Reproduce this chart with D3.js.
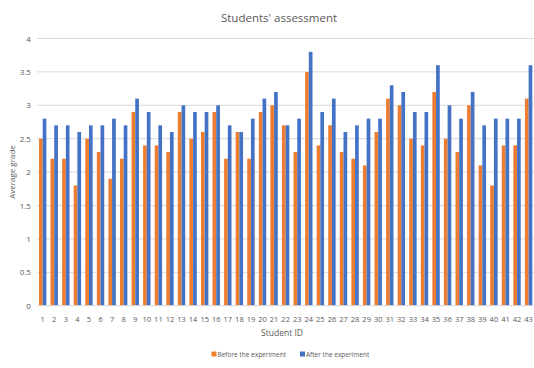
<!DOCTYPE html>
<html>
<head>
<meta charset="utf-8">
<script src="https://cdn.jsdelivr.net/npm/d3@7"></script>
<style>
  html, body { margin: 0; padding: 0; background: #fff; }
  svg { display: block; }
  text { font-family: "Open Sans", sans-serif; fill: #595959; }
</style>
</head>
<body>
<svg id="chart" width="534" height="368"></svg>
<script>
const studentIds = d3.range(1, 44).map(String);
const beforeValues = [2.5,2.2,2.2,1.8,2.5,2.3,1.9,2.2,2.9,2.4,2.4,2.3,2.9,2.5,2.6,2.9,2.2,2.6,2.2,2.9,3.0,2.7,2.3,3.5,2.4,2.7,2.3,2.2,2.1,2.6,3.1,3.0,2.5,2.4,3.2,2.5,2.3,3.0,2.1,1.8,2.4,2.4,3.1];
const afterValues  = [2.8,2.7,2.7,2.6,2.7,2.7,2.8,2.7,3.1,2.9,2.7,2.6,3.0,2.9,2.9,3.0,2.7,2.6,2.8,3.1,3.2,2.7,2.8,3.8,2.9,3.1,2.6,2.7,2.8,2.8,3.3,3.2,2.9,2.9,3.6,3.0,2.8,3.2,2.7,2.8,2.8,2.8,3.6];
const seriesNames = ["Before the experiment", "After the experiment"];
const seriesColors = ["#ED7D31", "#4472C4"];
const yTicks = [0, 0.5, 1, 1.5, 2, 2.5, 3, 3.5, 4];
const yTickLabels = ["0", "0.5", "1", "1.5", "2", "2.5", "3", "3.5", "4"];

const svg = d3.select("#chart");
const plotLeft = 36.9, plotRight = 534.4, plotTop = 38.5, plotBottom = 305.7;

const x = d3.scaleBand().domain(studentIds).range([plotLeft, plotRight]).paddingInner(0.36).paddingOuter(0.18);
const xs = d3.scaleBand().domain(seriesNames).range([0, x.bandwidth()]);
const y = d3.scaleLinear().domain([0, 4]).range([plotBottom, plotTop]);

// gridlines
svg.append("g").selectAll("line").data(yTicks.slice(1)).join("line")
  .attr("x1", plotLeft).attr("x2", 534).attr("y1", d => y(d)).attr("y2", d => y(d))
  .attr("stroke", "#d9d9d9").attr("stroke-width", 1);

// bars
const rows = studentIds.map((id, i) => ({ id, vals: [beforeValues[i], afterValues[i]] }));
const groups = svg.append("g").selectAll("g").data(rows).join("g")
  .attr("transform", d => `translate(${x(d.id)},0)`);
groups.selectAll("rect").data(d => d.vals.map((v, k) => ({ v, k }))).join("rect")
  .attr("x", d => xs(seriesNames[d.k]))
  .attr("width", xs.bandwidth())
  .attr("y", d => y(d.v))
  .attr("height", d => y(0) - y(d.v))
  .attr("fill", d => seriesColors[d.k]);

// baseline
svg.append("line").attr("x1", plotLeft).attr("x2", 534).attr("y1", y(0)).attr("y2", y(0))
  .attr("stroke", "#d9d9d9").attr("stroke-width", 1);

// y axis
const yAxis = d3.axisLeft(y).tickValues(yTicks).tickFormat((d, i) => yTickLabels[i]).tickSize(0).tickPadding(6);
const yg = svg.append("g").attr("transform", `translate(${plotLeft},0)`).call(yAxis);
yg.select(".domain").remove();
yg.selectAll("text").attr("font-size", 8).attr("font-family", "Open Sans").attr("fill", "#595959");

// x axis
const xAxis = d3.axisBottom(x).tickSize(0).tickPadding(11);
const xg = svg.append("g").attr("transform", `translate(0,${plotBottom})`).call(xAxis);
xg.select(".domain").remove();
xg.selectAll("text").attr("font-size", 7.5).attr("font-family", "Open Sans").attr("fill", "#595959");

// title
svg.append("text").attr("x", 279).attr("y", 22).attr("text-anchor", "middle")
  .attr("font-size", 11.5).text("Students' assessment");

// axis titles
svg.append("text").attr("x", 282).attr("y", 336).attr("text-anchor", "middle")
  .attr("font-size", 8.5).text("Student ID");
svg.append("text").attr("transform", "translate(15,172) rotate(-90)").attr("text-anchor", "middle")
  .attr("font-size", 8).text("Average grade");

// legend
const legendX = [211.5, 300];
const lg = svg.append("g").selectAll("g").data(seriesNames).join("g")
  .attr("transform", (d, i) => `translate(${legendX[i]},354)`);
lg.append("rect").attr("x", 0).attr("y", -2.5).attr("width", 5).attr("height", 5)
  .attr("fill", (d, i) => seriesColors[i]);
lg.append("text").attr("x", 6).attr("y", 2.5).attr("font-size", 6.5).text(d => d);
</script>
</body>
</html>
